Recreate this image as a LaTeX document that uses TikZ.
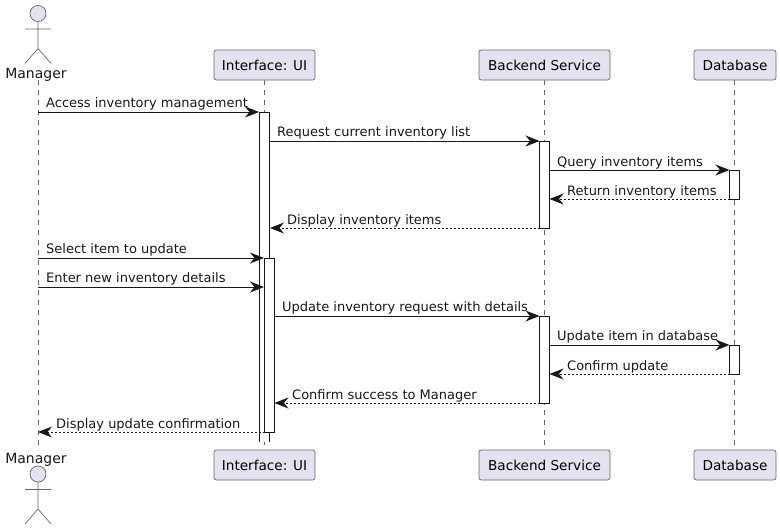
\documentclass[tikz,border=0pt]{standalone}
\usepackage{fontspec}
\setmainfont{DejaVu Sans}
\usetikzlibrary{arrows.meta}
\definecolor{boxfill}{HTML}{E2E2F0}
\definecolor{ink}{HTML}{181818}
\definecolor{thinink}{HTML}{686868}
\tikzset{
  party/.style={draw=thinink,fill=boxfill,rounded corners=2.5pt,line width=0.7pt,minimum height=30pt,inner sep=0pt,font=\fontsize{13.6}{16}\selectfont},
  actorname/.style={inner sep=0pt,anchor=base,text=ink,font=\fontsize{14}{16}\selectfont},
  life/.style={thinink,line width=0.7pt,dash pattern=on 5pt off 5pt},
  activebar/.style={draw=ink,fill=white,line width=0.9pt,minimum width=10pt,inner sep=0pt,outer sep=0pt},
  msg/.style={ink,line width=0.9pt,-{Stealth[length=14pt,width=11pt,inset=4.5pt]}},
  reply/.style={msg,dash pattern=on 2pt off 2pt},
  msgtext/.style={inner sep=0pt,anchor=base west,text=ink,font=\fontsize{13}{15}\selectfont},
  stick/.style={draw=thinink,line width=0.7pt}
}
\begin{document}
\begin{tikzpicture}[x=1pt,y=-1pt]
\useasboundingbox (0,0) rectangle (780,530);
% lifeline ends
\coordinate (mgrtop) at (38,80);
\coordinate (mgrbot) at (38,449);
\coordinate (uitop) at (264.5,80);
\coordinate (uibot) at (264.5,450);
\coordinate (svctop) at (544.5,80);
\coordinate (svcbot) at (544.5,450);
\coordinate (dbtop) at (734.5,80);
\coordinate (dbbot) at (734.5,450);
\foreach \who in {mgr,ui,svc,db}
  \draw[life] (\who top) -- (\who bot);
% participants
\node[party,minimum width=101pt] (uihead) at (264.5,65) {Interface: UI};
\node[party,minimum width=131pt] (svchead) at (544.5,65) {Backend Service};
\node[party,minimum width=82pt] (dbhead) at (735,65) {Database};
\node[party,minimum width=101pt] (uifoot) at (264.5,465) {Interface: UI};
\node[party,minimum width=131pt] (svcfoot) at (544.5,465) {Backend Service};
\node[party,minimum width=82pt] (dbfoot) at (735,465) {Database};
% actors
\node[actorname] (mgrhead) at (36,78) {Manager};
\node[actorname] (mgrfoot) at (36,463) {Manager};
\foreach \yy in {13.5,474} {
  \draw[stick,fill=boxfill] (38,\yy) circle (8pt);
  \draw[stick] (38,\yy+8) -- (38,\yy+35) (25,\yy+15.5) -- (51,\yy+15.5)
    (25,\yy+50) -- (38,\yy+35) -- (51,\yy+50);
}
% activations
\filldraw[activebar] (259.5,442) -- (259.5,112) -- (269.5,112) -- (269.5,442);
\node[activebar,minimum height=174pt] (uibar) at (269.5,345) {};
\node[activebar,minimum height=87pt] (svcbara) at (544.5,184.5) {};
\node[activebar,minimum height=87pt] (svcbarb) at (544.5,359.5) {};
\node[activebar,minimum height=29pt] (dbbara) at (734.5,184.5) {};
\node[activebar,minimum height=29pt] (dbbarb) at (734.5,359.5) {};
% message ends
\coordinate (uia) at (259,112);
\coordinate (uib) at (269.5,141);
\coordinate (uic) at (270,228);
\coordinate (uid) at (264,258);
\coordinate (uie) at (264,287);
\coordinate (mgra) at (38,112);
\coordinate (mgrb) at (38,258);
\coordinate (mgrc) at (38,287);
\coordinate (mgrd) at (38,432);
% messages
\draw[msg] (mgra) -- (uia);
\draw[msg] (uib) -- (svcbara.north west);
\draw[msg] (svcbara.east |- dbbara.north) -- (dbbara.north west);
\draw[reply] (dbbara.south west) -- (svcbara.east |- dbbara.south);
\draw[reply] (svcbara.south west) -- (uic);
\draw[msg] (mgrb) -- (uid);
\draw[msg] (mgrc) -- (uie);
\draw[msg] (uibar.east |- svcbarb.north) -- (svcbarb.north west);
\draw[msg] (svcbarb.east |- dbbarb.north) -- (dbbarb.north west);
\draw[reply] (dbbarb.south west) -- (svcbarb.east |- dbbarb.south);
\draw[reply] (svcbarb.south west) -- (uibar.east |- svcbarb.south);
\draw[reply] (uibar.south west) -- (mgrd);
% message labels
\node[msgtext] (ta) at (46,107) {Access inventory management};
\node[msgtext] (tb) at (277,136) {Request current inventory list};
\node[msgtext] (tc) at (557,166) {Query inventory items};
\node[msgtext] (td) at (567,195) {Return inventory items};
\node[msgtext] (te) at (287,224) {Display inventory items};
\node[msgtext] (tf) at (46,253) {Select item to update};
\node[msgtext] (tg) at (46,282) {Enter new inventory details};
\node[msgtext] (th) at (282,311) {Update inventory request with details};
\node[msgtext] (ti) at (557,340) {Update item in database};
\node[msgtext] (tj) at (567,370) {Confirm update};
\node[msgtext] (tk) at (292,399) {Confirm success to Manager};
\node[msgtext] (tl) at (56,428) {Display update confirmation};
\end{tikzpicture}
\end{document}
